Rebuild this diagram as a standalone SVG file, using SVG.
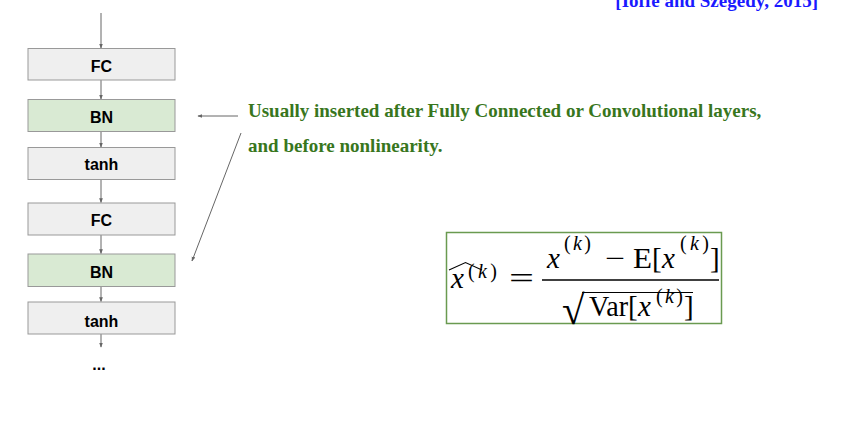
<svg xmlns="http://www.w3.org/2000/svg" width="844" height="425" viewBox="0 0 844 425">
<defs>
<style>
.box{stroke:#999;stroke-width:1}
.g{fill:#efefef}
.bn{fill:#d9ead3}
.lbl{font-family:"Liberation Sans",Arial,sans-serif;font-weight:bold;font-size:16px;fill:#000;text-anchor:middle}
.con{stroke:#666;stroke-width:1;fill:none}
.note{font-family:"Liberation Serif","Times New Roman",serif;font-weight:bold;font-size:19px;fill:#38761d}
.m{font-family:"Liberation Serif","Times New Roman",serif;fill:#000;font-size:29px}
.i{font-style:italic}
.s{font-size:20px}
.r{font-size:41px}
</style>
<marker id="ah" viewBox="0 0 8 8" refX="7" refY="4" markerWidth="5" markerHeight="5" orient="auto">
<path d="M0,1 L8,4 L0,7 z" fill="#666"/>
</marker>
</defs>
<rect width="844" height="425" fill="#fff"/>
<text x="818" y="7" text-anchor="end" font-family="Liberation Serif,serif" font-weight="bold" font-size="19" fill="#1a1aff">[Ioffe and Szegedy, 2015]</text>
<g id="connectors">
<line class="con" x1="101" y1="13" x2="101" y2="48" marker-end="url(#ah)"/>
<line class="con" x1="101" y1="80" x2="101" y2="99" marker-end="url(#ah)"/>
<line class="con" x1="101" y1="131.5" x2="101" y2="147" marker-end="url(#ah)"/>
<line class="con" x1="101" y1="179.5" x2="101" y2="202.5" marker-end="url(#ah)"/>
<line class="con" x1="101" y1="235" x2="101" y2="253.5" marker-end="url(#ah)"/>
<line class="con" x1="101" y1="286.5" x2="101" y2="301.5" marker-end="url(#ah)"/>
<line class="con" x1="101" y1="334" x2="101" y2="347" marker-end="url(#ah)"/>
<line class="con" x1="238" y1="116" x2="198" y2="116" marker-end="url(#ah)"/>
<line class="con" x1="241" y1="133" x2="192" y2="261" marker-end="url(#ah)"/>
</g>
<g id="fc1"><rect class="box g" x="28" y="48.5" width="147" height="31.5"/><text class="lbl" x="101.5" y="72">FC</text></g>
<g id="bn1"><rect class="box bn" x="28" y="99.5" width="147" height="32"/><text class="lbl" x="101.5" y="123">BN</text></g>
<g id="tanh1"><rect class="box g" x="28" y="147.5" width="147" height="32"/><text class="lbl" x="101.5" y="170">tanh</text></g>
<g id="fc2"><rect class="box g" x="28" y="203" width="147" height="32"/><text class="lbl" x="101.5" y="226">FC</text></g>
<g id="bn2"><rect class="box bn" x="28" y="254" width="147" height="32.5"/><text class="lbl" x="101.5" y="278">BN</text></g>
<g id="tanh2"><rect class="box g" x="28" y="302" width="147" height="32"/><text class="lbl" x="101.5" y="327">tanh</text></g>
<g id="dots"><text class="lbl" x="99" y="370">...</text></g>
<g id="note">
<text class="note" x="248" y="117">Usually inserted after Fully Connected or Convolutional layers,</text>
<text class="note" x="248" y="152">and before nonlinearity.</text>
</g>
<g id="formula">
<rect x="446.5" y="232.5" width="275" height="91" fill="#fff" stroke="#6a9a50" stroke-width="1.5"/>
<path d="M449,270 L465.5,262.5 L482,270" fill="none" stroke="#000" stroke-width="1.1"/>
<text class="m i" x="451" y="288">x</text>
<text class="m s" x="468" y="278" textLength="29" lengthAdjust="spacing">(<tspan class="i">k</tspan>)</text>
<text class="m" x="509" y="288" textLength="25" lengthAdjust="spacingAndGlyphs">=</text>
<text class="m i" x="547" y="268">x</text>
<text class="m s" x="564" y="250" textLength="27" lengthAdjust="spacing">(<tspan class="i">k</tspan>)</text>
<text class="m" x="605" y="268" textLength="20" lengthAdjust="spacingAndGlyphs">−</text>
<text class="m" x="633" y="268" textLength="19" lengthAdjust="spacingAndGlyphs">E</text>
<text class="m" x="652" y="268">[</text>
<text class="m i" x="662" y="268">x</text>
<text class="m s" x="680" y="250" textLength="29" lengthAdjust="spacing">(<tspan class="i">k</tspan>)</text>
<text class="m" x="710" y="268">]</text>
<line x1="542" y1="280" x2="719" y2="280" stroke="#000" stroke-width="1.4"/>
<text class="m r" x="562" y="324">√</text>
<line x1="582" y1="292.5" x2="693" y2="292.5" stroke="#000" stroke-width="1.2"/>
<text class="m" x="589" y="316" textLength="39" lengthAdjust="spacingAndGlyphs">Var</text>
<text class="m" x="628" y="316">[</text>
<text class="m i" x="638" y="316">x</text>
<text class="m s" x="656" y="303" textLength="27" lengthAdjust="spacing">(<tspan class="i">k</tspan>)</text>
<text class="m" x="684" y="316">]</text>
</g>
</svg>
